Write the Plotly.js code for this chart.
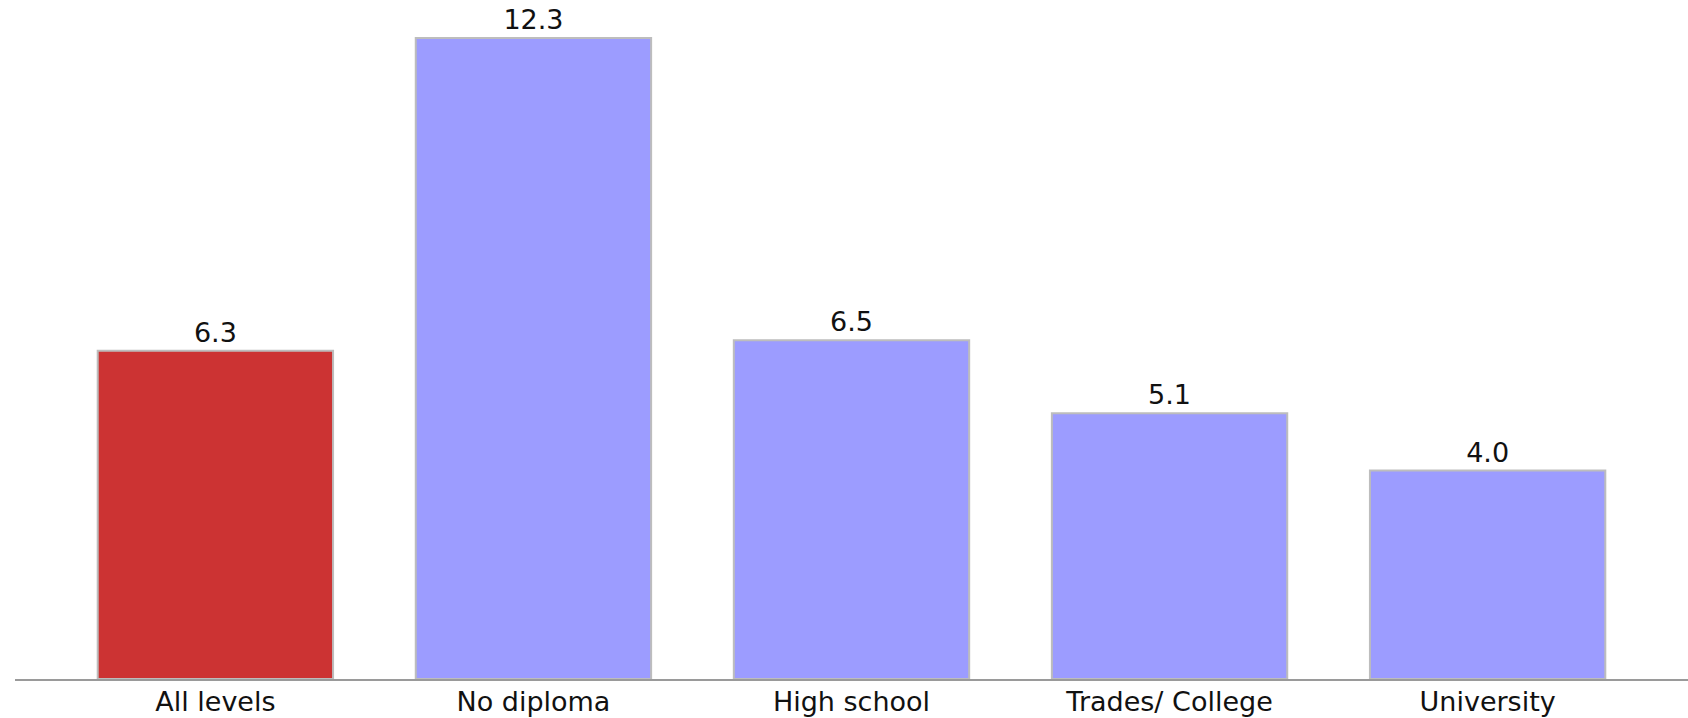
<!DOCTYPE html>
<html>
<head>
<meta charset="utf-8">
<script src="https://cdn.plot.ly/plotly-3.0.1.min.js"></script>
<style>html,body{margin:0;padding:0;background:#fff;}#chart{width:1688px;height:718px;}</style>
</head>
<body>
<div id="chart"></div>
<script>
const categories = ["All levels", "No diploma", "High school", "Trades/ College", "University"];
const values = [6.3, 12.3, 6.5, 5.1, 4.0];
const labels = ["6.3", "12.3", "6.5", "5.1", "4.0"];
const colors = ["#cc3333", "#9c9cff", "#9c9cff", "#9c9cff", "#9c9cff"];

const trace = {
  type: "bar",
  x: categories,
  y: values,
  text: labels,
  textposition: "outside",
  cliponaxis: false,
  textfont: {family: "DejaVu Sans", size: 27, color: "#111"},
  marker: {color: colors, line: {color: "#bdbdbd", width: 2}},
  hoverinfo: "none"
};

const layout = {
  width: 1688,
  height: 718,
  margin: {l: 15, r: 0, t: 0, b: 39},
  paper_bgcolor: "#fff",
  plot_bgcolor: "#fff",
  bargap: 0.26,
  showlegend: false,
  xaxis: {
    range: [-0.63, 4.63],
    showline: true,
    linecolor: "#9a9a9a",
    linewidth: 2,
    ticks: "",
    ticklen: 0,
    showgrid: false,
    zeroline: false,
    tickfont: {family: "DejaVu Sans", size: 27, color: "#111"},
    ticklabelstandoff: -2
  },
  yaxis: {
    range: [0, 13.03],
    visible: false,
    showgrid: false,
    zeroline: false
  }
};

Plotly.newPlot("chart", [trace], layout, {staticPlot: true, displayModeBar: false});
</script>
</body>
</html>
